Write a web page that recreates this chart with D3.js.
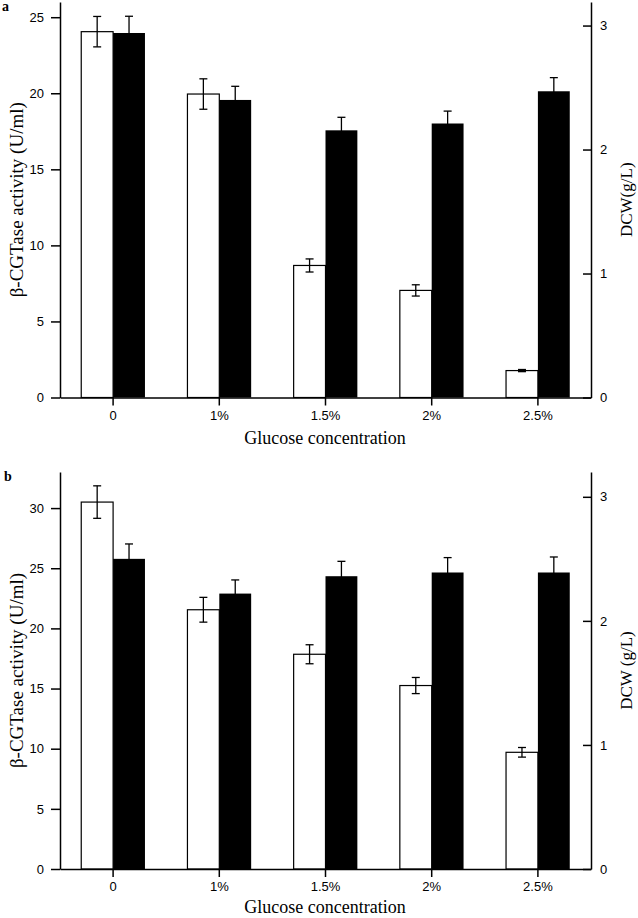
<!DOCTYPE html>
<html><head><meta charset="utf-8">
<script src="https://cdn.jsdelivr.net/npm/d3@7"></script>
<style>
html,body{margin:0;padding:0;background:#fff;}
svg{display:block;}
</style></head>
<body>
<svg id="chart" width="638" height="918"></svg>
<script>
const categories = ["0", "1%", "1.5%", "2%", "2.5%"];
// Panel a
const activityA = [24.05, 19.95, 8.68, 7.04, 1.77];
const activityErrA = [1.0, 1.0, 0.43, 0.37, 0.07];
const dcwA = [2.94, 2.40, 2.155, 2.21, 2.47];
const dcwErrA = [0.135, 0.11, 0.105, 0.10, 0.11];
// Panel b
const activityB = [30.5, 21.55, 17.85, 15.25, 9.7];
const activityErrB = [1.35, 1.03, 0.79, 0.67, 0.4];
const dcwB = [2.50, 2.22, 2.36, 2.39, 2.39];
const dcwErrB = [0.12, 0.11, 0.12, 0.12, 0.125];
// Ticks
const leftTicksA = [0, 5, 10, 15, 20, 25];
const leftTicksB = [0, 5, 10, 15, 20, 25, 30];
const rightTicks = [0, 1, 2, 3];

const svg = d3.select("#chart");
const serif = "'Liberation Serif','Times New Roman',serif";
const sans = "'Liberation Sans',Arial,sans-serif";

function panel(o) {
  const g = svg.append("g");
  const x = d3.scaleBand().domain(categories).range([60, 591]).padding(0);
  const yL = d3.scaleLinear().domain([0, o.leftMax]).range([o.bottom, o.top]);
  const yR = d3.scaleLinear().domain([0, o.rightMax]).range([o.bottom, o.top]);
  const bw = x.bandwidth() * 0.3;
  const cx = d => x(d) + x.bandwidth() / 2;

  g.selectAll(".w").data(categories).join("rect")
    .attr("x", d => cx(d) - bw).attr("width", bw)
    .attr("y", (d, i) => yL(o.act[i])).attr("height", (d, i) => o.bottom - yL(o.act[i]))
    .attr("fill", "#fff").attr("stroke", "#000").attr("stroke-width", 1.2);
  g.selectAll(".k").data(categories).join("rect")
    .attr("x", d => cx(d)).attr("width", bw)
    .attr("y", (d, i) => yR(o.dcw[i])).attr("height", (d, i) => o.bottom - yR(o.dcw[i]))
    .attr("fill", "#000");

  function errBars(vals, errs, scale, off) {
    categories.forEach((d, i) => {
      const xc = cx(d) + off;
      const y1 = scale(vals[i] + errs[i]), y2 = scale(vals[i] - errs[i]);
      g.append("line").attr("x1", xc).attr("x2", xc).attr("y1", y1).attr("y2", y2)
        .attr("stroke", "#000").attr("stroke-width", 1.3);
      [y1, y2].forEach(yy => g.append("line").attr("x1", xc - 4).attr("x2", xc + 4)
        .attr("y1", yy).attr("y2", yy).attr("stroke", "#000").attr("stroke-width", 1.3));
    });
  }
  errBars(o.act, o.actErr, yL, -bw / 2);
  errBars(o.dcw, o.dcwErr, yR, bw / 2);

  const ax = g.append("g").attr("transform", `translate(0,${o.bottom})`)
    .call(d3.axisBottom(x).tickSizeInner(8).tickSizeOuter(0).tickPadding(5));
  const al = g.append("g").attr("transform", "translate(60,0)")
    .call(d3.axisLeft(yL).tickValues(o.leftTicks).tickFormat(d3.format("d"))
      .tickSizeInner(9).tickSizeOuter(0).tickPadding(7));
  const ar = g.append("g").attr("transform", "translate(591,0)")
    .call(d3.axisRight(yR).tickValues(rightTicks).tickFormat(d3.format("d"))
      .tickSizeInner(-8).tickSizeOuter(0).tickPadding(9));
  [ax, al, ar].forEach(a => {
    a.selectAll("path,line").attr("stroke", "#000").attr("stroke-width", 1.5);
    a.selectAll("text").attr("font-family", sans).attr("font-size", 13).attr("fill", "#000");
  });

  g.append("text").attr("x", 325).attr("y", o.bottom + o.titleOff).attr("text-anchor", "middle")
    .attr("font-family", serif).attr("font-size", 18).text("Glucose concentration");
  g.append("text").attr("transform", `translate(23,${(o.top + o.bottom) / 2}) rotate(-90)`)
    .attr("text-anchor", "middle").attr("font-family", serif).attr("font-size", 19)
    .text("β-CGTase activity (U/ml)");
  g.append("text").attr("transform", `translate(632,${(o.top + o.bottom) / 2}) rotate(-90)`)
    .attr("text-anchor", "middle").attr("font-family", serif).attr("font-size", 17)
    .text(o.rightTitle);
  g.append("text").attr("x", o.letterX).attr("y", o.letterY).attr("font-family", serif)
    .attr("font-weight", "bold").attr("font-size", 14).text(o.letter);
}

panel({letter: "a", letterX: 2, letterY: 11, top: 2, bottom: 397.5, leftMax: 26, rightMax: 3.19, titleOff: 46,
  act: activityA, actErr: activityErrA, dcw: dcwA, dcwErr: dcwErrA, leftTicks: leftTicksA, rightTitle: "DCW(g/L)"});
panel({letter: "b", letterX: 4, letterY: 481, top: 472, bottom: 869, leftMax: 33, rightMax: 3.2, titleOff: 44,
  act: activityB, actErr: activityErrB, dcw: dcwB, dcwErr: dcwErrB, leftTicks: leftTicksB, rightTitle: "DCW (g/L)"});
</script>
</body></html>
